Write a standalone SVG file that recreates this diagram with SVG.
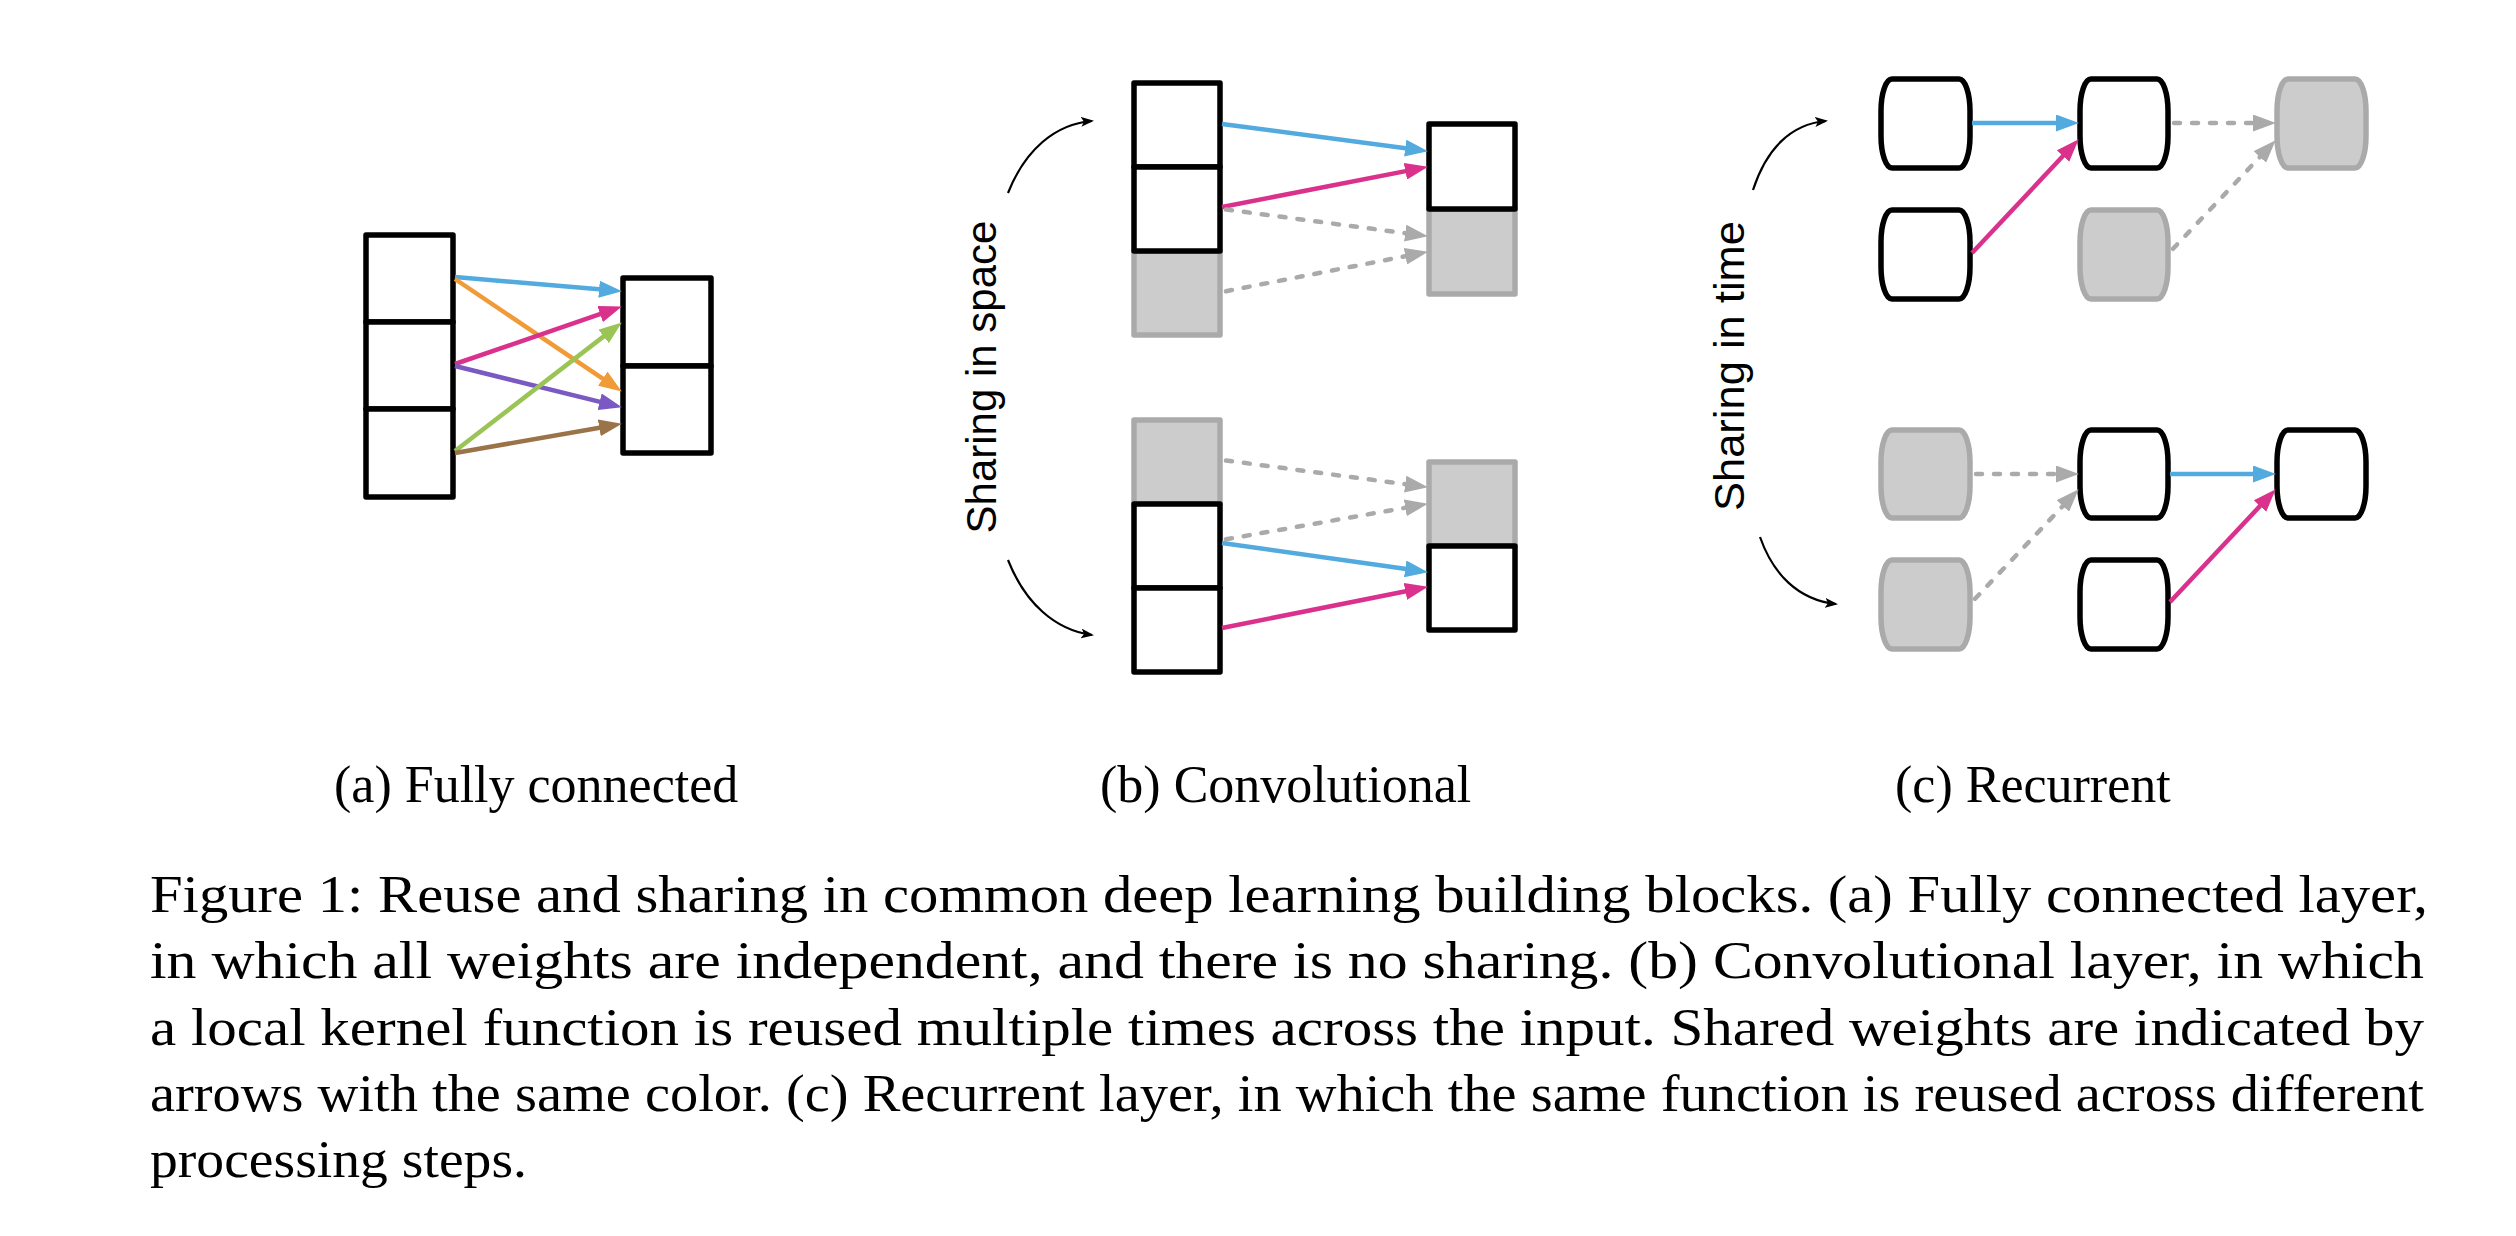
<svg xmlns="http://www.w3.org/2000/svg" width="2516" height="1236" viewBox="0 0 2516 1236">
<style>
.box{fill:#fff;stroke:#000;stroke-width:5.5;stroke-linejoin:round}
.gbox{fill:#ccc;stroke:#aaa;stroke-width:5.5;stroke-linejoin:round}
.a{fill:none;stroke-width:4.5}
.blue{stroke:#52aadf}
.orange{stroke:#f19a38}
.mag{stroke:#d9318c}
.pur{stroke:#7b59c3}
.grn{stroke:#9ac455}
.brn{stroke:#9a7349}
.gray{stroke:#aaa;stroke-dasharray:6 12;stroke-linecap:round}
.curve{fill:none;stroke:#000;stroke-width:2.2}
.lab{font-family:"Liberation Sans",Arial,sans-serif;font-size:42px;fill:#000}
.cap{font-family:"Liberation Serif","Times New Roman",serif;font-size:52px;fill:#000}
</style>
<defs>
<marker id="mBlue" markerUnits="userSpaceOnUse" markerWidth="23" markerHeight="17" refX="12" refY="8.5" orient="auto"><path d="M0,0 L23,8.5 L0,17 z" fill="#52aadf"/></marker>
<marker id="mOrange" markerUnits="userSpaceOnUse" markerWidth="23" markerHeight="17" refX="12" refY="8.5" orient="auto"><path d="M0,0 L23,8.5 L0,17 z" fill="#f19a38"/></marker>
<marker id="mMag" markerUnits="userSpaceOnUse" markerWidth="23" markerHeight="17" refX="12" refY="8.5" orient="auto"><path d="M0,0 L23,8.5 L0,17 z" fill="#d9318c"/></marker>
<marker id="mPur" markerUnits="userSpaceOnUse" markerWidth="23" markerHeight="17" refX="12" refY="8.5" orient="auto"><path d="M0,0 L23,8.5 L0,17 z" fill="#7b59c3"/></marker>
<marker id="mGrn" markerUnits="userSpaceOnUse" markerWidth="23" markerHeight="17" refX="12" refY="8.5" orient="auto"><path d="M0,0 L23,8.5 L0,17 z" fill="#9ac455"/></marker>
<marker id="mBrn" markerUnits="userSpaceOnUse" markerWidth="23" markerHeight="17" refX="12" refY="8.5" orient="auto"><path d="M0,0 L23,8.5 L0,17 z" fill="#9a7349"/></marker>
<marker id="mGray" markerUnits="userSpaceOnUse" markerWidth="23" markerHeight="17" refX="12" refY="8.5" orient="auto"><path d="M0,0 L23,8.5 L0,17 z" fill="#aaa"/></marker>
<marker id="mBlk" markerUnits="userSpaceOnUse" markerWidth="13" markerHeight="10" refX="11" refY="5" orient="auto"><path d="M0,0 L13,5 L0,10 L3,5 z" fill="#000"/></marker>
</defs>

<!-- (a) Fully connected -->
<g id="fc-input">
<rect class="box" x="366" y="235" width="87" height="87"/>
<rect class="box" x="366" y="322" width="87" height="87"/>
<rect class="box" x="366" y="409" width="87" height="88"/>
</g>
<g id="fc-output">
<rect class="box" x="623" y="278" width="88" height="88"/>
<rect class="box" x="623" y="366" width="88" height="87"/>
</g>

<!-- (b) Convolutional -->
<g id="conv-top-input">
<rect class="gbox" x="1134" y="251" width="86" height="84"/>
<rect class="box" x="1134" y="83" width="86" height="84"/>
<rect class="box" x="1134" y="167" width="86" height="84"/>
</g>
<g id="conv-top-output">
<rect class="gbox" x="1429" y="209" width="86" height="85"/>
<rect class="box" x="1429" y="124" width="86" height="85"/>
</g>
<g id="conv-bottom-input">
<rect class="gbox" x="1134" y="420" width="86" height="84"/>
<rect class="box" x="1134" y="504" width="86" height="84"/>
<rect class="box" x="1134" y="588" width="86" height="84"/>
</g>
<g id="conv-bottom-output">
<rect class="gbox" x="1429" y="462" width="86" height="84"/>
<rect class="box" x="1429" y="546" width="86" height="84"/>
</g>
<g id="label-space">
<text class="lab" text-anchor="middle" transform="translate(996,377) rotate(-90)">Sharing in space</text>
</g>

<!-- (c) Recurrent -->
<g id="rnn-top">
<rect class="box" x="1881" y="79" width="89" height="89" rx="11" ry="32"/>
<rect class="box" x="2080" y="79" width="88" height="89" rx="11" ry="32"/>
<rect class="gbox" x="2277" y="79" width="89" height="89" rx="11" ry="32"/>
<rect class="box" x="1881" y="210" width="89" height="89" rx="11" ry="32"/>
<rect class="gbox" x="2080" y="210" width="88" height="89" rx="11" ry="32"/>
</g>
<g id="rnn-bottom">
<rect class="gbox" x="1881" y="430" width="89" height="88" rx="11" ry="32"/>
<rect class="box" x="2080" y="430" width="88" height="88" rx="11" ry="32"/>
<rect class="box" x="2277" y="430" width="89" height="88" rx="11" ry="32"/>
<rect class="gbox" x="1881" y="560" width="89" height="89" rx="11" ry="32"/>
<rect class="box" x="2080" y="560" width="88" height="89" rx="11" ry="32"/>
</g>
<g id="label-time">
<text class="lab" text-anchor="middle" textLength="290" lengthAdjust="spacingAndGlyphs" transform="translate(1744,366) rotate(-90)">Sharing in time</text>
</g>

<g id="connectors">
<!-- FC -->
<line class="a blue" x1="455" y1="277" x2="611" y2="290.2" marker-end="url(#mBlue)"/>
<line class="a orange" x1="455" y1="279" x2="612.7" y2="385.4" marker-end="url(#mOrange)"/>
<line class="a mag" x1="455" y1="364" x2="611.5" y2="310.2" marker-end="url(#mMag)"/>
<line class="a pur" x1="455" y1="366" x2="611.3" y2="404.6" marker-end="url(#mPur)"/>
<line class="a grn" x1="455" y1="451" x2="613.1" y2="329.1" marker-end="url(#mGrn)"/>
<line class="a brn" x1="455" y1="453" x2="611.1" y2="425.7" marker-end="url(#mBrn)"/>
<!-- Conv top -->
<line class="a blue" x1="1222" y1="124" x2="1417.1" y2="149.7" marker-end="url(#mBlue)"/>
<line class="a mag" x1="1222" y1="207" x2="1417.2" y2="168.9" marker-end="url(#mMag)"/>
<line class="a gray" x1="1226" y1="209.5" x2="1417.1" y2="234.7" marker-end="url(#mGray)"/>
<line class="a gray" x1="1226" y1="291.2" x2="1417.2" y2="253.9" marker-end="url(#mGray)"/>
<!-- Conv bottom -->
<line class="a gray" x1="1226" y1="460.5" x2="1417.1" y2="485.7" marker-end="url(#mGray)"/>
<line class="a gray" x1="1226" y1="539.3" x2="1417.1" y2="505.7" marker-end="url(#mGray)"/>
<line class="a blue" x1="1222" y1="543" x2="1417.1" y2="570.6" marker-end="url(#mBlue)"/>
<line class="a mag" x1="1222" y1="628" x2="1417.2" y2="589" marker-end="url(#mMag)"/>
<!-- Recurrent top -->
<line class="a blue" x1="1972" y1="123" x2="2068" y2="123" marker-end="url(#mBlue)"/>
<line class="a mag" x1="1972" y1="253" x2="2071.2" y2="147.3" marker-end="url(#mMag)"/>
<line class="a gray" x1="2174" y1="123" x2="2265" y2="123" marker-end="url(#mGray)"/>
<line class="a gray" x1="2173" y1="248.8" x2="2268.1" y2="148.3" marker-end="url(#mGray)"/>
<!-- Recurrent bottom -->
<line class="a gray" x1="1976" y1="474" x2="2068" y2="474" marker-end="url(#mGray)"/>
<line class="a gray" x1="1975" y1="598.8" x2="2071.1" y2="497.3" marker-end="url(#mGray)"/>
<line class="a blue" x1="2170" y1="474" x2="2265" y2="474" marker-end="url(#mBlue)"/>
<line class="a mag" x1="2170" y1="602" x2="2268.2" y2="497.3" marker-end="url(#mMag)"/>
<!-- sharing curves -->
<path class="curve" d="M1008,193 C1025,150 1055,124 1092,121" marker-end="url(#mBlk)"/>
<path class="curve" d="M1008,560 C1025,603 1055,630 1092,635" marker-end="url(#mBlk)"/>
<path class="curve" d="M1753,190 C1766,150 1790,124 1826,121" marker-end="url(#mBlk)"/>
<path class="curve" d="M1760,537 C1773,574 1798,600 1836,604" marker-end="url(#mBlk)"/>
</g>

<g id="subcaptions">
<text class="cap" x="334" y="802">(a) Fully connected</text>
<text class="cap" x="1100" y="802">(b) Convolutional</text>
<text class="cap" x="1895" y="802">(c) Recurrent</text>
</g>
<g id="caption">
<text class="cap" x="150" y="912" textLength="2278" lengthAdjust="spacingAndGlyphs">Figure 1: Reuse and sharing in common deep learning building blocks. (a) Fully connected layer,</text>
<text class="cap" x="150" y="978" textLength="2274" lengthAdjust="spacingAndGlyphs">in which all weights are independent, and there is no sharing. (b) Convolutional layer, in which</text>
<text class="cap" x="150" y="1045" textLength="2274" lengthAdjust="spacingAndGlyphs">a local kernel function is reused multiple times across the input. Shared weights are indicated by</text>
<text class="cap" x="150" y="1111" textLength="2274" lengthAdjust="spacingAndGlyphs">arrows with the same color. (c) Recurrent layer, in which the same function is reused across different</text>
<text class="cap" x="150" y="1177" textLength="377" lengthAdjust="spacingAndGlyphs">processing steps.</text>
</g>
</svg>
